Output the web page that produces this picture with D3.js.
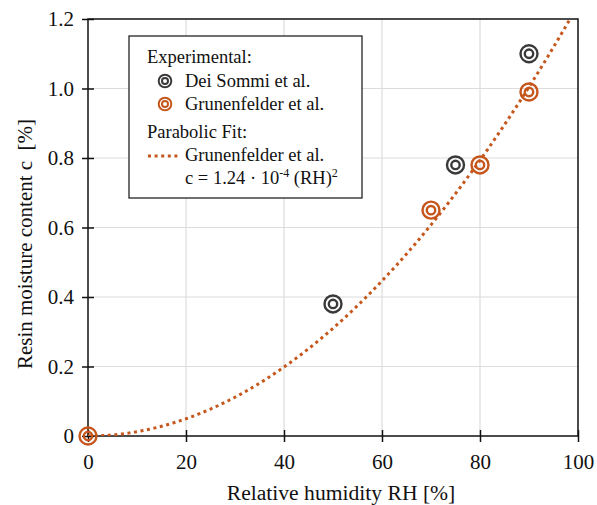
<!DOCTYPE html>
<html><head><meta charset="utf-8">
<script src="https://cdn.jsdelivr.net/npm/d3@7"></script>
<style>body{margin:0;background:#fff}svg{display:block}text{font-family:"Liberation Serif","Times New Roman",serif;fill:#111}</style>
</head><body><svg id="c" width="597" height="505"></svg>
<script>
const xTicks=[0,20,40,60,80,100];
const yTicks=[0,0.2,0.4,0.6,0.8,1.0,1.2];
const yTickLabels=["0","0.2","0.4","0.6","0.8","1.0","1.2"];
const deiRH=[50,75,90];
const deiC=[0.38,0.78,1.10];
const grunRH=[0,70,80,90];
const grunC=[0,0.65,0.78,0.99];
const fitCoef=1.24e-4;
const fitRH=d3.range(0,100.5,0.5);

const gray="#3a3a3a", orange="#c5561c";
const svg=d3.select("#c");
const L=88,R=578,T=19,B=436;
const x=d3.scaleLinear().domain([0,100]).range([L,R]);
const y=d3.scaleLinear().domain([0,1.2]).range([B,T]);

// grid
svg.append("g").selectAll("line").data(xTicks.slice(1,-1)).join("line")
  .attr("x1",d=>x(d)).attr("x2",d=>x(d)).attr("y1",T).attr("y2",B)
  .attr("stroke","#dcdcdc").attr("stroke-width",1.2);
svg.append("g").selectAll("line").data(yTicks.slice(1,-1)).join("line")
  .attr("y1",d=>y(d)).attr("y2",d=>y(d)).attr("x1",L).attr("x2",R)
  .attr("stroke","#dcdcdc").attr("stroke-width",1.2);

// frame
svg.append("rect").attr("x",L).attr("y",T).attr("width",R-L).attr("height",B-T)
  .attr("fill","none").attr("stroke","#111").attr("stroke-width",1.5);

// axes
const xa=svg.append("g").attr("transform",`translate(0,${B})`)
  .call(d3.axisBottom(x).tickValues(xTicks).tickSize(6).tickPadding(12));
xa.attr("font-family",null).attr("font-size",null);
xa.select(".domain").remove();
xa.selectAll(".tick line").attr("y1",-6).attr("stroke","#111").attr("stroke-width",1.5);
xa.selectAll(".tick text").attr("font-size",21).attr("fill","#111");
const ya=svg.append("g").attr("transform",`translate(${L},0)`)
  .call(d3.axisLeft(y).tickValues(yTicks).tickFormat((d,i)=>yTickLabels[i]).tickSize(6).tickPadding(8));
ya.attr("font-family",null).attr("font-size",null);
ya.select(".domain").remove();
ya.selectAll(".tick line").attr("x1",6).attr("stroke","#111").attr("stroke-width",1.5);
ya.selectAll(".tick text").attr("font-size",21).attr("fill","#111");

// titles
svg.append("text").attr("x",341).attr("y",500).attr("text-anchor","middle")
  .attr("font-size",21.6).text("Relative humidity RH [%]");
svg.append("text").attr("transform",`translate(32,244) rotate(-90)`).attr("text-anchor","middle")
  .attr("font-size",21).attr("xml:space","preserve").text("Resin moisture content c  [%]");

// fit line
svg.append("clipPath").attr("id","pc").append("rect").attr("x",L).attr("y",T).attr("width",R-L).attr("height",B-T);
svg.append("path").datum(fitRH).attr("clip-path","url(#pc)")
  .attr("d",d3.line().x(d=>x(d)).y(d=>y(fitCoef*d*d)))
  .attr("fill","none").attr("stroke",orange).attr("stroke-width",3).attr("stroke-dasharray","3,3.6");

function marker(g,cx,cy,col,r1,r2,sw){
  g.append("circle").attr("cx",cx).attr("cy",cy).attr("r",r1).attr("fill","none").attr("stroke",col).attr("stroke-width",sw);
  g.append("circle").attr("cx",cx).attr("cy",cy).attr("r",r2).attr("fill","none").attr("stroke",col).attr("stroke-width",sw);
}
const mg=svg.append("g");
deiRH.forEach((d,i)=>marker(mg,x(d),y(deiC[i]),gray,8.5,4.2,2.4));
grunRH.forEach((d,i)=>marker(mg,x(d),y(grunC[i]),orange,8.5,4.2,2.4));

// legend
const lg=svg.append("g");
lg.append("rect").attr("x",129).attr("y",36).attr("width",233).attr("height",162)
  .attr("fill","#fff").attr("stroke","#111").attr("stroke-width",1.2);
const fs=18.5;
lg.append("text").attr("x",147).attr("y",63).attr("font-size",fs).text("Experimental:");
marker(lg,165,81,gray,6.3,3,2);
lg.append("text").attr("x",185).attr("y",87).attr("font-size",fs).text("Dei Sommi et al.");
marker(lg,165,104,orange,6.3,3,2);
lg.append("text").attr("x",185).attr("y",110).attr("font-size",fs).text("Grunenfelder et al.");
lg.append("text").attr("x",147).attr("y",138).attr("font-size",fs).text("Parabolic Fit:");
lg.append("line").attr("x1",148).attr("x2",178).attr("y1",156).attr("y2",156)
  .attr("stroke",orange).attr("stroke-width",3).attr("stroke-dasharray","3,3.6");
lg.append("text").attr("x",185).attr("y",161).attr("font-size",fs).text("Grunenfelder et al.");
const eq=lg.append("text").attr("x",185).attr("y",184).attr("font-size",fs);
eq.append("tspan").text("c = 1.24 · 10");
eq.append("tspan").attr("dy",-7).attr("font-size",12).text("-4");
eq.append("tspan").attr("dy",7).text(" (RH)");
eq.append("tspan").attr("dy",-7).attr("font-size",12).text("2");
</script></body></html>
